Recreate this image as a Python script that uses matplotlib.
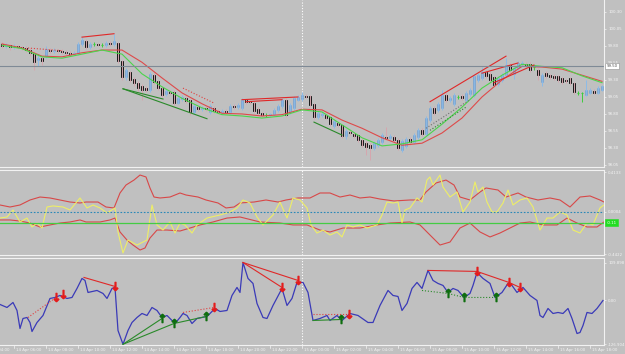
import matplotlib.pyplot as plt
import matplotlib.transforms as mtransforms
import numpy as np

BG = '#c0c0c0'

# ---------------- price candles, M15, bar 0 = 14 Apr 05:15 ----------------
opens = [99.83, 99.80, 99.81, 99.79, 99.80, 99.79, 99.77, 99.74, 99.70, 99.59,
         99.62, 99.65, 99.74, 99.73, 99.74, 99.73, 99.71, 99.70, 99.68, 99.70,
         99.83, 99.87, 99.79, 99.83, 99.83, 99.81, 99.81, 99.84, 99.83, 99.84,
         99.58, 99.34, 99.42, 99.31, 99.26, 99.21, 99.18, 99.15, 99.37, 99.28,
         99.18, 99.09, 99.12, 99.12, 98.96, 99.02, 99.03, 99.01, 98.83, 98.90,
         98.87, 98.89, 98.83, 98.89, 98.84, 98.83, 98.84, 98.83, 98.92, 98.90,
         98.89, 99.01, 98.99, 98.96, 98.87, 98.81, 98.79, 98.79, 98.80, 98.86,
         98.92, 99.01, 98.83, 98.89, 99.01, 99.02, 99.06, 99.06, 98.95, 98.76,
         98.79, 98.79, 98.76, 98.62, 98.67, 98.64, 98.48, 98.53, 98.51, 98.49,
         98.42, 98.37, 98.34, 98.30, 98.34, 98.39, 98.46, 98.45, 98.46, 98.42,
         98.27, 98.33, 98.43, 98.39, 98.46, 98.56, 98.51, 98.71, 98.89, 98.86,
         98.89, 99.08, 99.01, 98.95, 99.05, 99.06, 99.01, 99.09, 99.08, 99.30,
         99.33, 99.42, 99.39, 99.34, 99.24, 99.30, 99.37, 99.52, 99.39, 99.48,
         99.53, 99.53, 99.53, 99.49, 99.45, 99.27, 99.40, 99.37, 99.36, 99.36,
         99.33, 99.30, 99.33, 99.26, 99.11, 99.11, 99.08, 99.11, 99.14, 99.11,
         99.15]
closes = [99.80, 99.81, 99.79, 99.80, 99.79, 99.77, 99.74, 99.70, 99.56, 99.62,
          99.58, 99.76, 99.73, 99.74, 99.73, 99.71, 99.70, 99.68, 99.70, 99.83,
          99.89, 99.79, 99.83, 99.83, 99.81, 99.81, 99.84, 99.83, 99.87, 99.58,
          99.34, 99.45, 99.30, 99.26, 99.18, 99.15, 99.15, 99.39, 99.27, 99.18,
          99.08, 99.14, 99.11, 98.96, 99.03, 99.05, 98.99, 98.83, 98.92, 98.87,
          98.89, 98.87, 98.92, 98.84, 98.83, 98.84, 98.83, 98.92, 98.90, 98.93,
          99.01, 98.98, 98.98, 98.84, 98.81, 98.79, 98.79, 98.80, 98.86, 98.92,
          99.01, 98.79, 98.93, 99.03, 99.05, 99.08, 99.05, 98.93, 98.76, 98.81,
          98.80, 98.74, 98.65, 98.70, 98.64, 98.48, 98.55, 98.52, 98.48, 98.42,
          98.34, 98.31, 98.30, 98.37, 98.42, 98.49, 98.45, 98.48, 98.42, 98.30,
          98.40, 98.43, 98.39, 98.49, 98.56, 98.51, 98.74, 98.89, 98.81, 98.95,
          99.08, 99.01, 99.03, 99.08, 99.05, 99.03, 99.11, 99.15, 99.36, 99.37,
          99.42, 99.36, 99.30, 99.23, 99.33, 99.37, 99.52, 99.45, 99.48, 99.55,
          99.55, 99.52, 99.45, 99.49, 99.37, 99.37, 99.36, 99.34, 99.33, 99.30,
          99.27, 99.28, 99.26, 99.12, 99.11, 99.11, 99.15, 99.15, 99.11, 99.18,
          99.21]
highs = [99.86, 99.84, 99.83, 99.83, 99.81, 99.80, 99.80, 99.77, 99.73, 99.67,
         99.65, 99.80, 99.77, 99.77, 99.76, 99.76, 99.74, 99.73, 99.73, 99.86,
         99.93, 99.90, 99.86, 99.86, 99.84, 99.84, 99.87, 99.87, 99.98, 99.86,
         99.59, 99.48, 99.43, 99.34, 99.28, 99.24, 99.21, 99.42, 99.40, 99.30,
         99.21, 99.17, 99.15, 99.15, 99.06, 99.08, 99.06, 99.02, 98.95, 98.92,
         98.92, 98.92, 98.95, 98.92, 98.87, 98.87, 98.87, 98.95, 98.95, 98.96,
         99.03, 99.02, 99.01, 98.99, 98.90, 98.83, 98.81, 98.81, 98.89, 98.95,
         99.03, 99.03, 98.96, 99.06, 99.08, 99.12, 99.09, 99.08, 98.96, 98.84,
         98.83, 98.81, 98.77, 98.73, 98.70, 98.65, 98.58, 98.56, 98.53, 98.51,
         98.45, 98.40, 98.37, 98.40, 98.45, 98.52, 98.61, 98.51, 98.49, 98.45,
         98.43, 98.46, 98.46, 98.52, 98.59, 98.59, 98.77, 98.92, 98.92, 98.98,
         99.15, 99.11, 99.06, 99.11, 99.08, 99.09, 99.14, 99.18, 99.39, 99.40,
         99.49, 99.45, 99.42, 99.36, 99.36, 99.40, 99.62, 99.55, 99.50, 99.58,
         99.58, 99.56, 99.56, 99.52, 99.48, 99.40, 99.43, 99.39, 99.39, 99.37,
         99.34, 99.31, 99.34, 99.27, 99.14, 99.12, 99.30, 99.18, 99.17, 99.21,
         99.23]
lows = [99.77, 99.77, 99.74, 99.76, 99.76, 99.74, 99.71, 99.65, 99.45, 99.50,
        99.52, 99.62, 99.70, 99.70, 99.70, 99.68, 99.67, 99.65, 99.67, 99.67,
        99.80, 99.76, 99.76, 99.80, 99.80, 99.79, 99.79, 99.80, 99.80, 99.55,
        99.30, 99.30, 99.27, 99.21, 99.14, 99.01, 99.12, 99.12, 99.24, 99.15,
        99.05, 99.06, 99.08, 98.93, 98.95, 98.99, 98.96, 98.79, 98.80, 98.84,
        98.84, 98.84, 98.80, 98.81, 98.80, 98.80, 98.80, 98.80, 98.87, 98.87,
        98.86, 98.95, 98.95, 98.81, 98.79, 98.76, 98.76, 98.76, 98.77, 98.83,
        98.89, 98.76, 98.80, 98.86, 98.99, 98.99, 99.03, 98.90, 98.73, 98.73,
        98.76, 98.73, 98.62, 98.59, 98.61, 98.45, 98.43, 98.49, 98.45, 98.39,
        98.31, 98.20, 98.12, 98.27, 98.31, 98.36, 98.42, 98.42, 98.39, 98.27,
        98.24, 98.30, 98.34, 98.36, 98.43, 98.48, 98.48, 98.68, 98.79, 98.83,
        98.86, 98.98, 98.98, 98.92, 99.02, 99.01, 98.98, 99.06, 99.05, 99.27,
        99.30, 99.33, 99.27, 99.20, 99.21, 99.27, 99.34, 99.42, 99.31, 99.45,
        99.50, 99.49, 99.42, 99.45, 99.30, 99.21, 99.33, 99.31, 99.30, 99.27,
        99.24, 99.26, 99.23, 99.09, 99.08, 98.98, 99.06, 99.09, 99.09, 99.09,
        99.14]

# moving averages, read every 5 bars
ma_bars = list(range(0, 151, 5))
ma_slow = [99.83, 99.77, 99.65, 99.64, 99.70, 99.74, 99.74, 99.56, 99.33, 99.11,
           98.95, 98.81, 98.80, 98.77, 98.79, 98.87, 98.86, 98.71, 98.59, 98.45,
           98.34, 98.37, 98.52, 98.74, 99.05, 99.30, 99.50, 99.49, 99.46, 99.37,
           99.28]
ma_fast = [99.81, 99.76, 99.64, 99.62, 99.68, 99.74, 99.68, 99.39, 99.20, 99.03,
           98.89, 98.79, 98.77, 98.74, 98.77, 98.86, 98.83, 98.64, 98.45, 98.33,
           98.36, 98.42, 98.65, 98.90, 99.18, 99.37, 99.53, 99.50, 99.48, 99.36,
           99.26]

# trend lines on price: (bar0, price0, bar1, price1, colour, style)
price_lines = [
    (20, 99.93, 28, 99.98, '#e02828', '-'),
    (6.5, 99.77, 15.25, 99.73, '#e04040', ':'),
    (30.25, 99.17, 40.25, 99.02, '#2a8a2a', '-'),
    (30.25, 99.17, 51.25, 98.73, '#2a8a2a', '-'),
    (45.25, 99.18, 53, 98.96, '#e04040', ':'),
    (60, 99.01, 74, 99.05, '#e02828', '-'),
    (61, 98.98, 70, 99.01, '#e02828', '-'),
    (78, 98.68, 85, 98.49, '#2a8a2a', '-'),
    (107, 98.98, 126, 99.65, '#e02828', '-'),
    (120, 99.40, 129, 99.55, '#e02828', '-'),
    (123, 99.26, 133, 99.52, '#e02828', '-'),
    (107, 98.56, 116, 98.90, '#2a8a2a', ':'),
    (106, 98.59, 117, 99.01, '#707070', ':'),
]
price_ticks = [100.30, 100.05, 99.80, 99.55, 99.30, 99.05, 98.80, 98.55, 98.30, 98.05]
hline_price = 99.50

# ---------------- oscillator panel ----------------
up_bars = [-0.5, 2, 4.5, 7, 9.5, 12, 14.5, 17, 19.5, 21, 24, 26, 28, 29.5, 31, 33, 34.5, 36, 37, 38,
           39.5, 42, 44.5, 46, 49, 51, 54, 56, 58, 59.5, 63, 66, 69, 71, 74, 77, 79.5, 82, 84.5, 87,
           89.5, 92, 94.5, 98, 102, 104.5, 106, 108.5, 111, 113, 114.5, 117, 119.5, 121, 124, 126, 129,
           131, 134, 137, 139.5, 142, 144.5, 147, 149.5, 150.5]
up_vals = [0.073, 0.052, 0.073, 0.125, 0.156, 0.146, 0.125, 0.104, 0.094, 0.104, 0.104, 0.052, 0.042,
           0.198, 0.281, 0.333, 0.385, 0.365, 0.250, 0.156, 0.146, 0.156, 0.198, 0.177, 0.156, 0.125,
           0.094, 0.042, 0.052, 0.094, 0.104, 0.125, 0.104, 0.125, 0.146, 0.146, 0.198, 0.198, 0.156,
           0.177, 0.146, 0.156, 0.135, 0.115, 0.125, 0.125, 0.208, 0.302, 0.333, 0.281, 0.156, 0.125,
           0.208, 0.250, 0.229, 0.156, 0.198, 0.156, 0.125, 0.146, 0.125, 0.052, 0.156, 0.167, 0.125,
           0.104]
lo_bars = [-0.5, 2, 4.5, 7, 9.5, 12, 14.5, 17, 19.5, 21, 24.5, 27, 28.25, 29.5, 31.25, 32.75, 34.5, 35.75,
           37, 38.75, 41.25, 44.5, 47, 49.5, 52.75, 56.25, 59.5, 64.5, 69.5, 72.75, 76.25, 79.5, 82,
           85.25, 89.5, 93.75, 97, 102, 104.5, 107, 109.5, 112, 114.5, 117, 119.5, 122, 124.5, 127, 129.5,
           132, 135.25, 138.75, 141.25, 143.75, 146.25, 148.75, 150.5]
lo_vals = [-0.083, -0.083, -0.094, -0.115, -0.156, -0.135, -0.115, -0.104, -0.083, -0.104, -0.104,
           -0.083, -0.063, -0.208, -0.292, -0.344, -0.396, -0.375, -0.271, -0.188, -0.188, -0.198,
           -0.167, -0.135, -0.104, -0.063, -0.052, -0.104, -0.115, -0.135, -0.135, -0.188, -0.208,
           -0.167, -0.167, -0.135, -0.115, -0.104, -0.135, -0.240, -0.344, -0.313, -0.167, -0.115,
           -0.208, -0.260, -0.219, -0.167, -0.115, -0.104, -0.135, -0.135, -0.063, -0.115, -0.156,
           -0.156, -0.104]
osc_bars = [-0.5, 1.25, 2.75, 4.5, 6.25, 7.5, 8.75, 10, 11.25, 12.75, 15.25, 17, 19.5, 21.25, 22.75, 24.5,
            26.25, 28.25, 29, 30.25, 31.5, 33.75, 36.25, 37.5, 38.75, 40.25, 42, 43.25, 44.5, 45.75, 47.5,
            48.75, 51.25, 54.5, 57, 58.75, 60.25, 62, 63.75, 65.25, 67.75, 69.5, 71.25, 72.75, 74.5, 76.25,
            77.25, 78.75, 80.25, 82, 83.75, 85, 86.25, 87.75, 89.5, 91.25, 93.75, 95, 96.25, 97.75, 99,
            100, 100.75, 102, 103.75, 105, 106.25, 107, 107.75, 109.5, 110.25, 112, 113.75, 115.25, 117,
            118.25, 119, 120.25, 121.25, 122.5, 123.75, 125.25, 126.5, 127.75, 129.5, 131.25, 132.75,
            134.5, 136.25, 137.75, 139.5, 141.25, 142.75, 144.5, 146.25, 147.75, 149.5, 150.5]
osc_vals = [-0.063, -0.052, 0.021, -0.104, -0.063, -0.156, -0.115, -0.167, 0.052, 0.063, 0.052, 0.021,
            0.146, 0.042, 0.073, 0.042, -0.010, 0.042, -0.208, -0.427, -0.292, -0.344, -0.292, 0.073,
            -0.135, -0.188, -0.104, -0.219, -0.115, -0.135, -0.219, -0.135, -0.063, -0.031, 0.000, 0.042,
            0.125, 0.094, -0.052, -0.135, -0.031, 0.104, -0.063, 0.146, 0.125, 0.042, -0.135, -0.219,
            -0.188, -0.240, -0.208, -0.260, -0.135, -0.156, -0.135, -0.167, -0.135, -0.031, 0.104, 0.094,
            0.104, -0.115, 0.021, 0.042, 0.146, 0.104, 0.333, 0.365, 0.281, 0.385, 0.260, 0.156, 0.208,
            0.000, 0.104, 0.313, 0.208, 0.260, 0.104, 0.000, 0.000, 0.094, 0.229, 0.073, 0.125, 0.146,
            0.052, -0.188, -0.063, -0.063, 0.000, -0.031, -0.188, -0.219, -0.115, -0.135, 0.042, 0.073]
osc_level = -0.11
osc_ticks = [0.4133, 0.0004, -0.4422]

# ---------------- CCI-type panel ----------------
cci_bars = [-0.5, 1.25, 2.75, 3.75, 4.5, 5.25, 6.25, 7, 7.5, 8.75, 10.25, 12, 13.25, 14.5, 16.25, 17.5,
            18.75, 20, 20.75, 21.5, 23.75, 25.25, 26.25, 27.5, 28.25, 29, 30.25, 31.5, 32.5, 33.75, 35,
            36.25, 37.5, 38.75, 40, 41.25, 42.5, 43.25, 44.5, 45.25, 46.25, 47.5, 48.75, 51.25, 53.25,
            54.5, 56.25, 57.5, 58.75, 59.5, 60.25, 61.5, 62.75, 63.75, 64.5, 65.25, 66.25, 67.75, 70,
            71.25, 72.5, 73.75, 75.25, 76.5, 77.75, 79.5, 81.25, 82, 83.75, 85, 87, 89, 91.5, 92.75, 94.5,
            96.5, 97.75, 99, 100, 101.25, 102.5, 103.75, 105, 106.5, 107.75, 109, 110.25, 111.5, 112.75,
            114, 115.5, 117, 117.75, 118.75, 120.25, 122, 123.25, 125, 126.5, 127.5, 128.75, 130.25, 132,
            133.75, 134.5, 135.25, 136.5, 137.75, 139, 140.25, 141.5, 142.5, 143.75, 144.5, 145.25,
            146.25, 147.5, 148.75, 150.25]
cci_vals = [-11.6, -20.3, -5.8, -29, -81.2, -52.2, -49.3, -63.8, -89.9, -63.8, -43.5, 5.8, 8.7, 14.5,
            5.8, 8.7, 34.8, 63.8, 58, 23.2, 29, 20.3, 5.8, 34.8, 37.7, -87, -126.9, -87, -63.8, -49.3,
            -37.7, -43.5, -20.3, -29, -49.3, -43.5, -58, -66.7, -49.3, -37.7, -43.5, -66.7, -52.2,
            -46.4, -23.2, -31.9, -29, 14.5, 37.7, 23.2, 109.9, 63.8, 49.3, -8.7, -29, -49.3, -52.2,
            -14.5, 34.8, -14.5, 5.8, 52.2, 52.2, 23.2, -58, -52.2, -43.5, -58, -43.5, -58, -37.7,
            -43.5, -63.8, -63.8, -14.5, 29, 14.5, 11.6, -29, -8.7, 34.8, 52.2, 34.8, 87, 58, 49.3, 43.5,
            23.2, 34.8, 29, 8.7, 20.3, 43.5, 81.2, 63.8, 49.3, 8.7, 23.2, 49.3, 43.5, 23.2, 37.7, 14.5,
            0, -43.5, -49.3, -23.2, -37.7, -34.8, -37.7, -23.2, -52.2, -95.7, -92.8, -72.5, -34.8,
            -37.7, -23.2, 0]
sell_bars = [13.5, 15.25, 28.25, 53, 70, 74, 86.75, 118.75, 126.75, 129.5]
sell_vals = [8.7, 17.4, 40.6, -20.3, 37.7, 58, -40.6, 84.1, 52.2, 37.7]
buy_bars = [40, 43, 51, 84.75, 111.5, 115.5, 123.5]
buy_vals = [-52.2, -66.7, -46.4, -55.1, 20.3, 8.7, 8.7]
cci_lines = [
    ([6.5, 13.5], [-49.3, 8.7], '#e04040', ':'),
    ([20.5, 28.25], [66.7, 40.6], '#e02828', '-'),
    ([30.25, 40], [-126.9, -52.2], '#2a8a2a', '-'),
    ([30.25, 43, 51], [-126.9, -66.7, -46.4], '#2a8a2a', '-'),
    ([45.25, 53], [-34.8, -20.3], '#e04040', ':'),
    ([60.25, 70], [109.9, 37.7], '#e02828', '-'),
    ([60.25, 74], [109.9, 58], '#e02828', '-'),
    ([77.75, 86.75], [-40.6, -40.6], '#e04040', ':'),
    ([77.75, 84.75], [-58, -55.1], '#2a8a2a', '-'),
    ([106.5, 118.75, 126.75, 129.5], [87, 84.1, 52.2, 37.7], '#e02828', '-'),
    ([105, 111.5, 115.5, 123.5], [29, 20.3, 8.7, 8.7], '#2a8a2a', ':'),
]

# time axis: every 2 hours (8 bars), first label is off the left edge
time_bars = list(range(-5, 150, 8))
time_labels = ['14 Apr %02d:00' % h for h in range(4, 24, 2)] + \
              ['15 Apr %02d:00' % h for h in range(0, 20, 2)]

# ---------------- figure ----------------
fig = plt.figure(figsize=(6.25, 3.54), dpi=100, facecolor=BG)
W, H = 625.0, 354.0
xr = 604 / W
ax1 = fig.add_axes([0, 1 - 167 / H, xr, 167 / H])
ax2 = fig.add_axes([0, 1 - 255 / H, xr, 85 / H])
ax3 = fig.add_axes([0, 1 - 345 / H, xr, 87 / H])

for ax in (ax1, ax2, ax3):
    ax.set_facecolor(BG)
    ax.set_xlim(-0.5, 150.5)
    ax.spines['left'].set_visible(False)
    for s in ('top', 'bottom', 'right'):
        ax.spines[s].set_color('#f2f2f2')
        ax.spines[s].set_linewidth(0.8)
    ax.set_xticks([])
    ax.yaxis.tick_right()
    ax.tick_params(axis='y', colors='#f4f4f4', labelsize=2.8, length=1.5, width=0.5, pad=1.5)
    ax.axvline(75, color='white', lw=0.8, ls=(0, (1, 1.5)))
ax1.spines['top'].set_visible(False)

# candles
o, h, l, c = map(np.array, (opens, highs, lows, closes))
x = np.arange(len(c))
up, dn, fl = c > o, c < o, c == o
ax1.vlines(x[up], l[up], h[up], color='#8cbbe8', lw=0.7)
ax1.vlines(x[dn], l[dn], h[dn], color='#d6a6ae', lw=0.7)
ax1.vlines(x[fl], l[fl], h[fl], color='#3ccc3c', lw=0.7)
ax1.bar(x[up], c[up] - o[up], bottom=o[up], width=0.62, color='#1f3f72',
        edgecolor='#8cbbe8', linewidth=0.5)
ax1.bar(x[dn], o[dn] - c[dn], bottom=c[dn], width=0.62, color='black',
        edgecolor='black', linewidth=0.5)
ax1.hlines(c[fl], x[fl] - 0.35, x[fl] + 0.35, color='#3ccc3c', lw=0.8)

ax1.plot(ma_bars, ma_slow, color='#de4a4a', lw=0.8)
ax1.plot(ma_bars, ma_fast, color='#4cd44c', lw=0.8)
for b0, p0, b1, p1, col, ls in price_lines:
    ax1.plot([b0, b1], [p0, p1], color=col, lw=0.8, ls=ls)
ax1.axhline(hline_price, color='#7f8a96', lw=0.8)
ax1.set_ylim(98.02, 100.476)
ax1.set_yticks(price_ticks)
ax1.set_yticklabels(['%.2f' % p for p in price_ticks])
ax1.text(1.004, hline_price, '%.2f' % hline_price, transform=mtransforms.blended_transform_factory(
    ax1.transAxes, ax1.transData), fontsize=2.8, color='#505050', va='center', ha='left',
    bbox=dict(boxstyle='square,pad=0.25', fc='white', ec='#909090', lw=0.4), clip_on=False)

# oscillator
ax2.plot(up_bars, up_vals, color='#d84848', lw=0.8)
ax2.plot(lo_bars, lo_vals, color='#d84848', lw=0.8)
ax2.plot(osc_bars, osc_vals, color='#eeee66', lw=0.8)
ax2.axhline(0.0004, color='#2a88b8', lw=0.8, ls=(0, (1.5, 1.5)))
ax2.axhline(osc_level, color='#44cc44', lw=0.9)
ax2.set_ylim(-0.448, 0.4375)
ax2.set_yticks(osc_ticks)
ax2.set_yticklabels(['%.4f' % v for v in osc_ticks])
ax2.text(1.004, osc_level, '%.2f' % osc_level, transform=mtransforms.blended_transform_factory(
    ax2.transAxes, ax2.transData), fontsize=2.8, color='white', va='center', ha='left',
    bbox=dict(boxstyle='square,pad=0.4', fc='#22dd22', ec='#22dd22', lw=0.4), clip_on=False)

# CCI panel
ax3.plot(cci_bars, cci_vals, color='#3a3ab8', lw=0.9)
for xs, ys, col, ls in cci_lines:
    ax3.plot(xs, ys, color=col, lw=0.8, ls=ls)
ax3.plot(sell_bars, sell_vals, ls='none', marker=r'$\downarrow$', ms=6, mew=0.9,
         color='#e41c1c')
ax3.plot(buy_bars, buy_vals, ls='none', marker=r'$\uparrow$', ms=6, mew=0.9,
         color='#0e6e0e')
ax3.set_ylim(-129, 123)
ax3.set_yticks([109.898, 0, -126.904])
ax3.set_yticklabels(['109.898', '0.00', '-126.904'])

tt = mtransforms.blended_transform_factory(ax3.transData, ax3.transAxes)
for b, lab in zip(time_bars, time_labels):
    ax3.text(b + 0.5, -0.055, lab, transform=tt, fontsize=2.8, color='#f4f4f4',
             ha='left', va='center', clip_on=False)
    if b >= 0:
        ax3.plot([b, b], [0, -0.03], transform=tt, color='#f4f4f4', lw=0.5, clip_on=False)

fig.savefig('out.png', dpi=100, facecolor=BG)
